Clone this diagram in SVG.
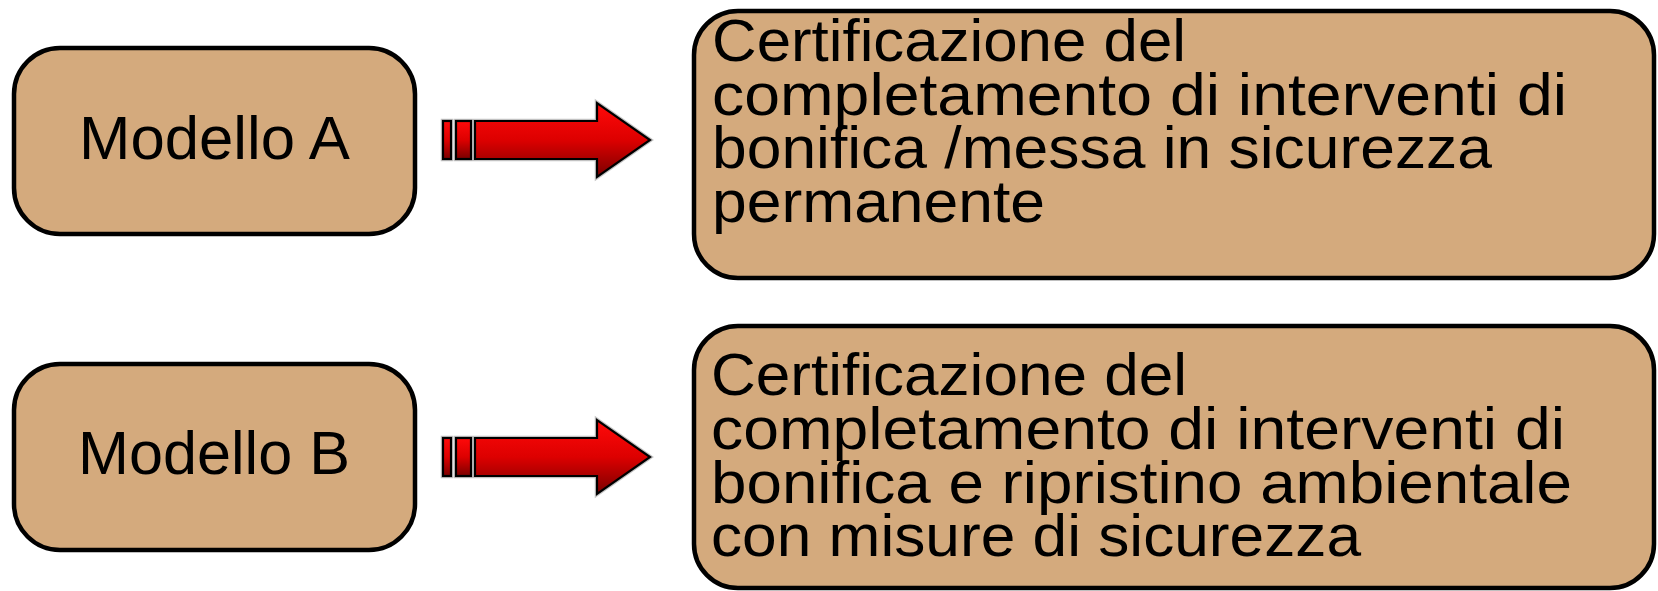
<svg xmlns="http://www.w3.org/2000/svg" width="1658" height="591" viewBox="0 0 1658 591">
<defs>
<linearGradient id="red" x1="0" y1="0" x2="0" y2="1">
<stop offset="0" stop-color="#ff0a0a"/>
<stop offset="0.5" stop-color="#dd0000"/>
<stop offset="1" stop-color="#7a0000"/>
</linearGradient>
<style>
.box{fill:#d4aa7d;stroke:#000;stroke-width:4.5}
.lbl{font-family:"Liberation Sans",Arial,sans-serif;font-size:62px;fill:#000}
.txt{font-family:"Liberation Sans",Arial,sans-serif;font-size:60px;fill:#000}
.arr{fill:url(#red);stroke:#000;stroke-width:2.2;stroke-linejoin:miter}
.halo{fill:none;stroke:#999;stroke-width:4.5;opacity:0.6}
</style>
</defs>
<rect width="1658" height="591" fill="#fff"/>
<g id="modelloA">
<rect class="box" x="14" y="48" width="401" height="186" rx="46" ry="46"/>
<text class="lbl" x="79" y="159" textLength="271" lengthAdjust="spacingAndGlyphs">Modello A</text>
</g>
<g id="modelloB">
<rect class="box" x="14" y="364" width="401" height="186" rx="46" ry="46"/>
<text class="lbl" x="78" y="474" textLength="272" lengthAdjust="spacingAndGlyphs">Modello B</text>
</g>
<g id="certA">
<rect class="box" x="694" y="11" width="960" height="267" rx="44" ry="44"/>
<text class="txt" x="712" y="61" textLength="474" lengthAdjust="spacingAndGlyphs">Certificazione del</text>
<text class="txt" x="712" y="114.5" textLength="855" lengthAdjust="spacingAndGlyphs">completamento di interventi di</text>
<text class="txt" x="712" y="168" textLength="780" lengthAdjust="spacingAndGlyphs">bonifica /messa in sicurezza</text>
<text class="txt" x="712" y="221.5" textLength="333" lengthAdjust="spacingAndGlyphs">permanente</text>
</g>
<g id="certB">
<rect class="box" x="694" y="326" width="960" height="262" rx="44" ry="44"/>
<text class="txt" x="711" y="395" textLength="476" lengthAdjust="spacingAndGlyphs">Certificazione del</text>
<text class="txt" x="711" y="449" textLength="854" lengthAdjust="spacingAndGlyphs">completamento di interventi di</text>
<text class="txt" x="711" y="502.5" textLength="861" lengthAdjust="spacingAndGlyphs">bonifica e ripristino ambientale</text>
<text class="txt" x="711" y="555.5" textLength="650" lengthAdjust="spacingAndGlyphs">con misure di sicurezza</text>
</g>
<g id="connectors">
<g id="arrowA">
<path class="halo" d="M443 121H451V159H443Z M456 121H471V159H456Z M475 121H597V103L650 140L597 177V159H475Z"/>
<rect class="arr" x="443" y="121" width="8" height="38"/>
<rect class="arr" x="456" y="121" width="15" height="38"/>
<path class="arr" d="M475 121H597V103L650 140L597 177V159H475Z"/>
</g>
<g id="arrowB" transform="translate(0,317)">
<path class="halo" d="M443 121H451V159H443Z M456 121H471V159H456Z M475 121H597V103L650 140L597 177V159H475Z"/>
<rect class="arr" x="443" y="121" width="8" height="38"/>
<rect class="arr" x="456" y="121" width="15" height="38"/>
<path class="arr" d="M475 121H597V103L650 140L597 177V159H475Z"/>
</g>
</g>
</svg>
